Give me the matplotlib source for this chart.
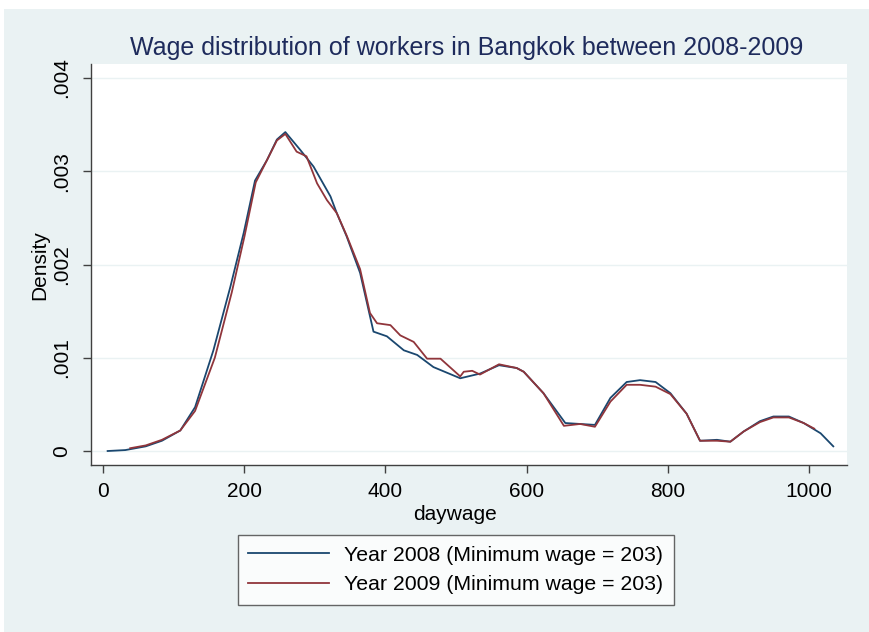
import matplotlib.pyplot as plt
from matplotlib.patches import Rectangle

plt.switch_backend("Agg")
plt.rcParams["font.family"] = ["Liberation Sans", "DejaVu Sans"]

# --- kernel density curves (density in units of 1e-3) ---
x_2008 = [6, 31, 60, 83, 109, 130, 156, 180, 199, 215, 232, 246, 258, 279, 298,
          322, 331, 345, 364, 383, 402, 426, 445, 468, 506, 534, 561, 586, 596,
          624, 655, 676, 697, 719, 742, 761, 783, 804, 827, 846, 870, 889, 908,
          931, 950, 972, 993, 1017, 1035]
d_2008 = [0.0, 0.01, 0.05, 0.11, 0.22, 0.47, 1.08, 1.76, 2.34, 2.90, 3.12, 3.34,
          3.42, 3.23, 3.05, 2.73, 2.55, 2.30, 1.91, 1.28, 1.23, 1.08, 1.03, 0.90,
          0.78, 0.83, 0.92, 0.89, 0.85, 0.62, 0.30, 0.29, 0.28, 0.57, 0.74, 0.76,
          0.74, 0.62, 0.40, 0.11, 0.12, 0.10, 0.21, 0.32, 0.37, 0.37, 0.30, 0.19,
          0.05]

x_2009 = [38, 60, 83, 109, 130, 158, 182, 200, 216, 232, 246, 258, 274, 288, 303,
          317, 331, 345, 364, 378, 388, 407, 421, 440, 459, 478, 506, 511, 523,
          534, 561, 586, 596, 624, 653, 676, 697, 719, 742, 761, 783, 804, 827,
          846, 870, 889, 908, 931, 950, 972, 993, 1008]
d_2009 = [0.03, 0.06, 0.12, 0.22, 0.43, 1.00, 1.70, 2.30, 2.88, 3.12, 3.33, 3.40,
          3.21, 3.16, 2.87, 2.69, 2.55, 2.31, 1.95, 1.48, 1.37, 1.35, 1.24, 1.17,
          0.99, 0.99, 0.80, 0.85, 0.86, 0.82, 0.93, 0.89, 0.85, 0.62, 0.27, 0.29,
          0.26, 0.53, 0.71, 0.71, 0.69, 0.61, 0.40, 0.11, 0.11, 0.10, 0.21, 0.31,
          0.36, 0.36, 0.30, 0.24]

y_ticks = [0, 0.001, 0.002, 0.003, 0.004]
y_labels = ["0", ".001", ".002", ".003", ".004"]
x_ticks = [0, 200, 400, 600, 800, 1000]

W, H = 869, 632
BG = "#eaf2f3"
fig = plt.figure(figsize=(W / 100, H / 100), dpi=100, facecolor="white")
fig.patches.append(Rectangle((4 / W, 0), 1, 1 - 9 / H, transform=fig.transFigure,
                             facecolor=BG, edgecolor="none", zorder=-10))

ax = fig.add_axes([90.7 / W, 1 - 465 / H, (846.7 - 90.7) / W, (465 - 64) / H])
ax.set_facecolor("white")

ax.plot(x_2008, [d / 1000 for d in d_2008], color="#1a476f", lw=1.3,
        label="Year 2008 (Minimum wage = 203)")
ax.plot(x_2009, [d / 1000 for d in d_2009], color="#90353b", lw=1.3,
        label="Year 2009 (Minimum wage = 203)")

ax.set_xlim(-18, 1054)
ax.set_ylim(-0.00015, 0.00415)
ax.set_xticks(x_ticks)
ax.set_yticks(y_ticks)
ax.set_yticklabels(y_labels, rotation=90, va="center")
for t in y_ticks:
    ax.axhline(t, color=BG, lw=1, zorder=0)

for s in ["top", "right"]:
    ax.spines[s].set_visible(False)
for s in ["left", "bottom"]:
    ax.spines[s].set_color("#404040")
    ax.spines[s].set_linewidth(1)
ax.tick_params(axis="both", length=6, width=1, color="#404040",
               labelsize=15, labelcolor="black")
ax.tick_params(axis="x", pad=6)
ax.tick_params(axis="y", pad=8)

fig.text(466.5 / W, 1 - 55 / H,
         "Wage distribution of workers in Bangkok between 2008-2009",
         ha="center", va="baseline", fontsize=18, color="#1e2b5c")
fig.text(454.5 / W, 1 - 520 / H, "daywage", ha="center", va="baseline",
         fontsize=15)
fig.text(40 / W, 1 - 265 / H, "Density", ha="center", va="center",
         rotation=90, fontsize=15)

leg = fig.legend(loc="upper left", bbox_to_anchor=(237.7 / W, 1 - 535 / H),
                 borderaxespad=0, fontsize=15.3, frameon=True, fancybox=False,
                 handlelength=3.8, handletextpad=0.7, labelspacing=0.5,
                 borderpad=0.5)
leg.get_frame().set_edgecolor("#404040")
leg.get_frame().set_linewidth(1)

fig.savefig("out.png", dpi=100, facecolor=fig.get_facecolor())
